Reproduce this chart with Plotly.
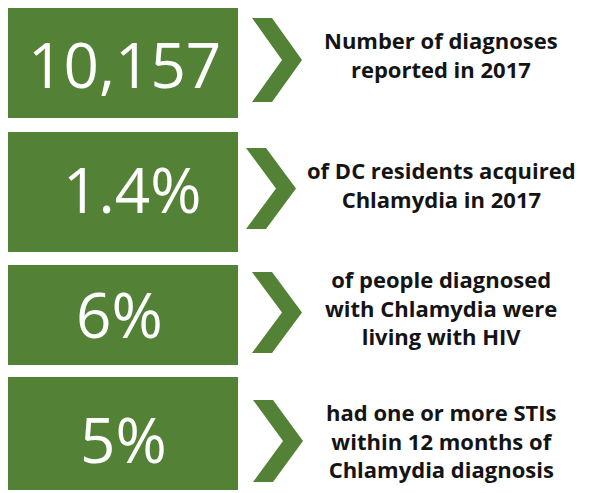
import plotly.graph_objects as go

# ---- data ----
stat_values = ["10,157", "1.4%", "6%", "5%"]
stat_descriptions = [
    ["Number of diagnoses", "reported in 2017"],
    ["of DC residents acquired", "Chlamydia in 2017"],
    ["of people diagnosed", "with Chlamydia were", "living with HIV"],
    ["had one or more STIs", "within 12 months of", "Chlamydia diagnosis"],
]

# ---- layout (pixel geometry) ----
W, H = 598, 493
OFF = 8  # page body margin compensation
GREEN = "#538135"
box_x0, box_x1 = 8, 238
box_rows = [(8, 118), (132, 252), (265, 365), (377, 490)]
value_x = [124, 132, 119, 123]
value_y = [64, 189, 314, 439]
chevron_rows = [(18, 102, 252), (148, 229, 246), (272, 353, 252), (400, 482, 253)]
chev_w = 50      # horizontal extent
chev_t = 20      # horizontal thickness
desc_x = 441
desc_y = [54, 184, 307, 440]

fig = go.Figure()
fig.add_trace(go.Scatter(x=[OFF, W + OFF], y=[OFF, H + OFF], mode="markers",
                         marker=dict(opacity=0), hoverinfo="skip", showlegend=False))

shapes = []
annotations = []
for i, (val, desc) in enumerate(zip(stat_values, stat_descriptions)):
    y0, y1 = box_rows[i]
    shapes.append(dict(type="rect", xref="x", yref="y", x0=box_x0, x1=box_x1,
                       y0=y0, y1=y1, fillcolor=GREEN, line=dict(width=0), layer="below"))
    annotations.append(dict(x=value_x[i], y=value_y[i], xref="x", yref="y",
                            text=val, showarrow=False, xanchor="center", yanchor="middle",
                            font=dict(family="Open Sans", size=62, color="white")))
    cy0, cy1, cx = chevron_rows[i]
    cm = (cy0 + cy1) / 2
    path = (f"M {cx},{cy0} L {cx+chev_t},{cy0} L {cx+chev_w},{cm} "
            f"L {cx+chev_t},{cy1} L {cx},{cy1} L {cx+chev_w-chev_t},{cm} Z")
    shapes.append(dict(type="path", xref="x", yref="y", path=path,
                       fillcolor=GREEN, line=dict(width=0)))
    annotations.append(dict(x=desc_x, y=desc_y[i], xref="x", yref="y",
                            text="<br>".join(desc), showarrow=False,
                            xanchor="center", yanchor="middle", align="center",
                            font=dict(family="Open Sans", size=22, color="#141414", weight="bold")))

fig.update_layout(
    width=W, height=H,
    margin=dict(l=0, r=0, t=0, b=0),
    paper_bgcolor="white", plot_bgcolor="white",
    xaxis=dict(range=[OFF, W + OFF], visible=False, fixedrange=True),
    yaxis=dict(range=[H + OFF, OFF], visible=False, fixedrange=True),
    shapes=shapes, annotations=annotations, showlegend=False,
)
fig.write_html("out.html")
